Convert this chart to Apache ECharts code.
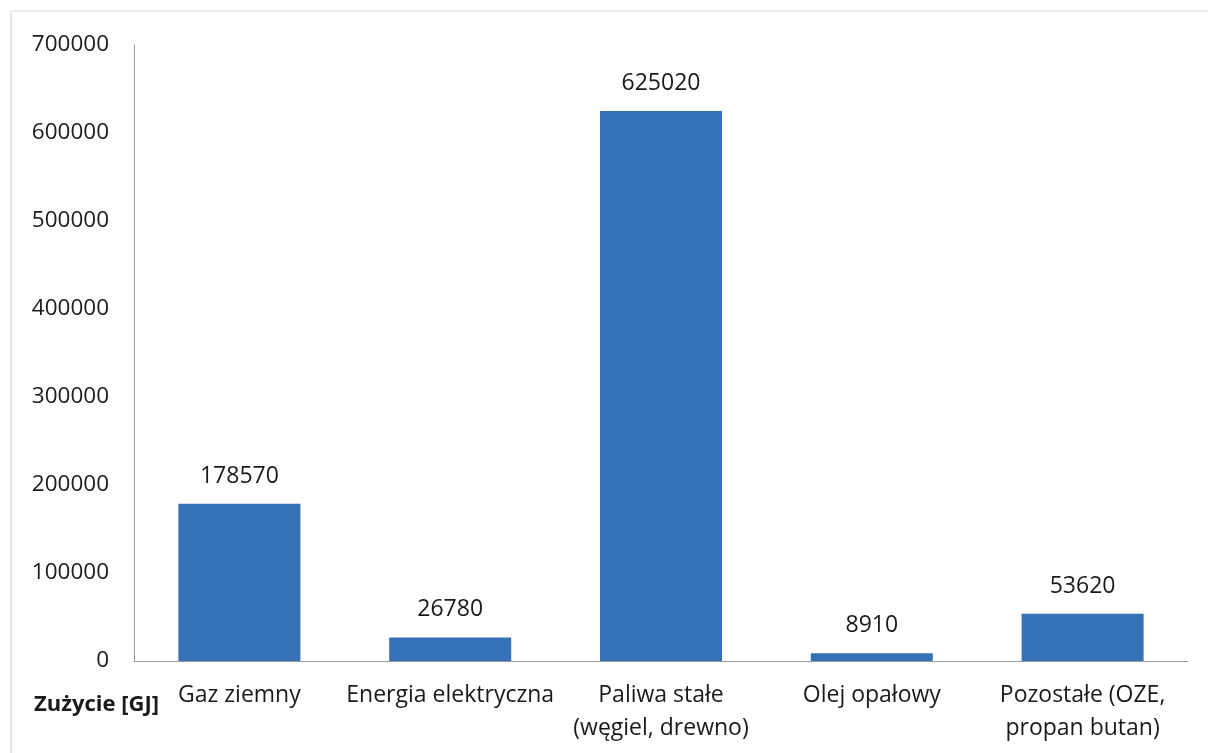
<!DOCTYPE html>
<html>
<head>
<meta charset="utf-8">
<script src="https://cdn.jsdelivr.net/npm/echarts@6/dist/echarts.min.js"></script>
<style>
html,body{margin:0;padding:0;background:#fff;}
#chart{width:1208px;height:753px;}
</style>
</head>
<body>
<div id="chart"></div>
<script>
const categories = ["Gaz ziemny", "Energia elektryczna", "Paliwa stałe\n(węgiel, drewno)", "Olej opałowy", "Pozostałe (OZE,\npropan butan)"];
const values = [178570, 26780, 625020, 8910, 53620];
const axisTitle = "Zużycie [GJ]";

const chart = echarts.init(document.getElementById('chart'));
const font = "'Open Sans', 'Liberation Sans', sans-serif";
chart.setOption({
  backgroundColor: '#ffffff',
  animation: false,
  grid: {left: 134, right: 20, top: 45, bottom: 92},
  graphic: [
    {type: 'line', shape: {x1: 12, y1: 11, x2: 1208, y2: 11}, style: {stroke: '#d8d8d8', lineWidth: 1}},
    {type: 'line', shape: {x1: 11, y1: 11, x2: 11, y2: 753}, style: {stroke: '#c8c8c8', lineWidth: 1}},
    {type: 'text', left: 34, top: 694, style: {text: axisTitle, font: "bold 22px " + font, fill: '#1a1a1a'}}
  ],
  xAxis: {
    type: 'category',
    data: categories,
    axisLine: {show: true, lineStyle: {color: '#9a9a9a', width: 1}},
    axisTick: {show: false},
    axisLabel: {color: '#1a1a1a', fontSize: 23, fontFamily: font, margin: 18, lineHeight: 33, interval: 0}
  },
  yAxis: {
    type: 'value',
    min: 0, max: 700000, interval: 100000,
    axisLine: {show: true, lineStyle: {color: '#9a9a9a', width: 1}},
    axisTick: {show: false},
    splitLine: {show: false},
    axisLabel: {color: '#1a1a1a', fontSize: 22.5, fontFamily: font, margin: 25, formatter: function (v) { return String(v); }}
  },
  series: [{
    type: 'bar',
    data: values,
    barWidth: 122,
    itemStyle: {color: '#3670b6'},
    label: {show: true, position: 'top', distance: 16, color: '#1a1a1a', fontSize: 23, fontFamily: font}
  }]
});
</script>
</body>
</html>
